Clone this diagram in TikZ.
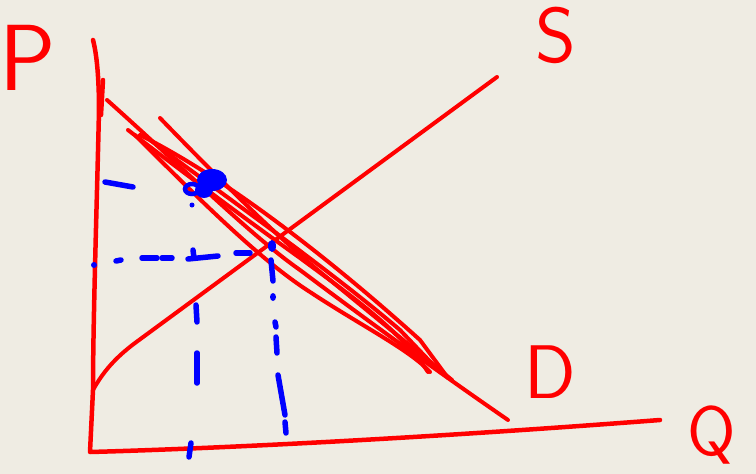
\documentclass[tikz,border=0pt]{standalone}
\usepackage{fontspec}
\definecolor{bg}{RGB}{239,236,227}
\begin{document}
\begin{tikzpicture}[x=1pt,y=-1pt,
  axis/.style={draw=red,line width=4.5pt,line cap=round,line join=round},
  curve/.style={draw=red,line width=4pt,line cap=round,line join=round},
  bdash/.style={draw=blue,line width=5.5pt,line cap=round},
  lbl/.style={text=red,inner sep=0pt,anchor=base}]
\fill[bg] (0,0) rectangle (756,474);
\useasboundingbox (0,0) rectangle (756,474);

% axes
\draw[axis] (93,40) .. controls (97,55) and (99,80) .. (99,110) .. controls (97,200) and (93,320) .. (93,390) -- (90,452) .. controls (200,449) and (400,440) .. (660,420);
\draw[axis] (103,80) -- (101,115);

% supply
\draw[curve] (93,390) .. controls (103,372) and (115,358) .. (135,343) -- (497,77);

% demand strokes
\draw[curve] (107,100) .. controls (180,165) and (250,235) .. (300,270) .. controls (380,330) and (450,380) .. (508,420);
\draw[curve] (160,118) .. controls (220,180) and (280,240) .. (330,280) -- (452,380);
\draw[curve] (128,130) .. controls (180,170) and (240,215) .. (300,258) .. controls (350,295) and (400,330) .. (428,372);
\draw[curve] (135,135) .. controls (200,200) and (260,260) .. (310,292) .. controls (360,325) and (410,350) .. (430,372);
\draw[curve] (140,135) .. controls (220,175) and (320,250) .. (420,340) -- (448,378);
\draw[curve] (150,140) .. controls (230,200) and (330,270) .. (400,330) -- (440,372);

% blue blob
\fill[blue] (212,180) ellipse [x radius=15, y radius=11];
\fill[blue] (204,190) ellipse [x radius=9, y radius=8];
\draw[blue,line width=4.5pt] (192,189) ellipse [x radius=7, y radius=5];
\fill[blue] (192,205) circle (2.5);
\fill[blue] (94,265) circle (3);
\fill[blue] (272,246) ellipse [x radius=4, y radius=6];

% horizontal dashes
\draw[bdash] (105,182) -- (133,187);
\draw[bdash] (116,261) -- (121,260);
\draw[bdash] (142,258) -- (157,258);
\draw[bdash] (162,258) -- (172,258);
\draw[bdash] (188,259) -- (218,256);
\draw[bdash] (193,250) -- (194,258);
\draw[bdash] (236,253) -- (250,253);

% vertical dashes
\draw[bdash] (196,305) -- (197,322);
\draw[bdash] (197,353) -- (197,383);
\draw[bdash] (191,443) -- (189,457);

% dash-dot vertical
\draw[bdash] (271,260) -- (273,281);
\fill[blue] (273,297) ellipse [x radius=3, y radius=4];
\draw[bdash] (275,322) -- (276,327);
\draw[bdash] (276,337) -- (277,353);
\draw[bdash] (278,375) -- (285,415);
\draw[bdash] (285,422) -- (286,433);

% labels
\node[lbl,font=\sffamily\fontsize{94}{94}\selectfont] (P) at (28,90) {P};
\node[lbl,font=\sffamily\fontsize{78}{78}\selectfont] (S) at (556,62) {S};
\node[lbl,font=\sffamily\fontsize{76}{76}\selectfont] (D) at (550,398) {D};
\node[lbl,font=\sffamily\fontsize{70}{70}\selectfont] (Q) at (712,455) {Q};
\end{tikzpicture}
\end{document}
